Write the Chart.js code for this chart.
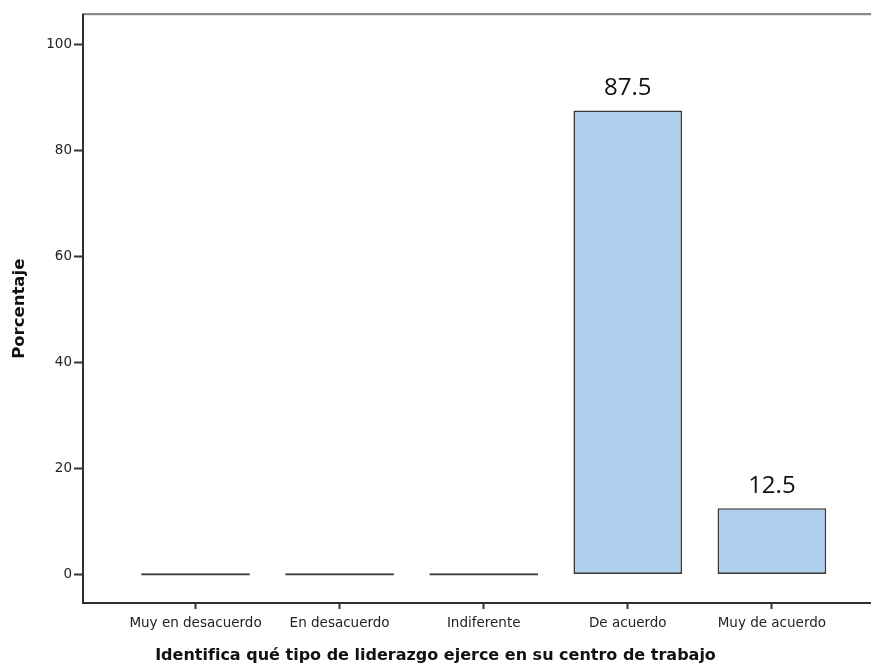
<!DOCTYPE html>
<html lang="es">
<head>
<meta charset="utf-8">
<title>Identifica qué tipo de liderazgo ejerce en su centro de trabajo</title>
<script src="https://cdn.jsdelivr.net/npm/chart.js@4/dist/chart.umd.min.js"></script>
<style>
  html, body { margin: 0; padding: 0; background: #ffffff; overflow: hidden; }
  #wrap { width: 871px; height: 666px; position: relative; }
</style>
</head>
<body>
<div id="wrap"><canvas id="grafico"></canvas></div>
<script>
// Categorías de respuesta y porcentaje de cada una
const categorias = ['Muy en desacuerdo', 'En desacuerdo', 'Indiferente', 'De acuerdo', 'Muy de acuerdo'];
const porcentajes = [0, 0, 0, 87.5, 12.5];
const marcasY = [0, 20, 40, 60, 80, 100];
const tituloX = 'Identifica qué tipo de liderazgo ejerce en su centro de trabajo';
const tituloY = 'Porcentaje';

const puntos = porcentajes.map((v, i) => ({ x: i, y: v }));

// Escribe el valor encima de cada barra con porcentaje distinto de cero
const etiquetasValor = {
  id: 'etiquetasValor',
  afterDatasetsDraw(chart) {
    const ctx = chart.ctx;
    const meta = chart.getDatasetMeta(0);
    ctx.save();
    ctx.font = '24px "Open Sans", sans-serif';
    ctx.fillStyle = '#111111';
    ctx.textAlign = 'center';
    ctx.textBaseline = 'alphabetic';
    meta.data.forEach((barra, i) => {
      const v = porcentajes[i];
      if (v > 0) ctx.fillText(String(v), barra.x, barra.y - 15);
    });
    ctx.restore();
  }
};

const fuenteTicks = { family: '"DejaVu Sans", sans-serif', size: 13.5 };

new Chart(document.getElementById('grafico'), {
  type: 'bar',
  data: {
    datasets: [{
      data: puntos,
      backgroundColor: '#aecfed',
      borderColor: '#383838',
      borderWidth: 1.6,
      borderSkipped: false,
      minBarLength: 2.4,
      categoryPercentage: 1,
      barPercentage: 0.754
    }]
  },
  options: {
    responsive: true,
    maintainAspectRatio: false,
    animation: false,
    events: [],
    layout: { padding: { top: 14.5, left: 0, right: 0, bottom: 0 } },
    plugins: {
      legend: { display: false },
      tooltip: { enabled: false },
      title: {
        display: true,
        position: 'bottom',
        text: tituloX,
        color: '#111111',
        font: { family: '"DejaVu Sans", sans-serif', size: 16, weight: 'bold', lineHeight: 1.2 },
        padding: { top: 7, bottom: 1 }
      }
    },
    scales: {
      x: {
        type: 'linear',
        position: 'bottom',
        min: -0.781,
        max: 4.688,
        offset: false,
        afterBuildTicks(s) { s.ticks = categorias.map((_, i) => ({ value: i })); },
        afterFit(s) { s.height = 35.8; },
        grid: {
          display: true,
          offset: false,
          drawOnChartArea: false,
          drawTicks: true,
          tickLength: 6,
          tickColor: '#333333',
          tickWidth: 2
        },
        border: { display: true, color: '#2e2e2e', width: 2 },
        ticks: {
          autoSkip: false,
          maxRotation: 0,
          padding: 6,
          color: '#222222',
          font: fuenteTicks,
          callback: (v) => (Number.isInteger(v) && categorias[v] !== undefined ? categorias[v] : '')
        }
      },
      xTop: {
        type: 'linear',
        axis: 'x',
        position: 'top',
        display: true,
        grid: { display: false, drawTicks: false },
        ticks: { display: false },
        border: { display: true, color: '#8a8a8a', width: 2.2 }
      },
      y: {
        type: 'linear',
        position: 'left',
        min: -5.39,
        max: 105.6,
        afterBuildTicks(s) { s.ticks = marcasY.map(v => ({ value: v })); },
        afterFit(s) { s.width = 83; },
        grid: {
          display: true,
          drawOnChartArea: false,
          drawTicks: true,
          tickLength: 9,
          tickColor: '#333333',
          tickWidth: 2
        },
        border: { display: true, color: '#2e2e2e', width: 2 },
        ticks: {
          padding: 2,
          color: '#222222',
          font: fuenteTicks,
          callback: (v) => String(v)
        },
        title: {
          display: true,
          text: tituloY,
          color: '#111111',
          font: { family: '"DejaVu Sans", sans-serif', size: 16.5, weight: 'bold', lineHeight: 1.2 },
          padding: { top: 10, bottom: 0 }
        }
      }
    }
  },
  plugins: [etiquetasValor]
});
</script>
</body>
</html>
